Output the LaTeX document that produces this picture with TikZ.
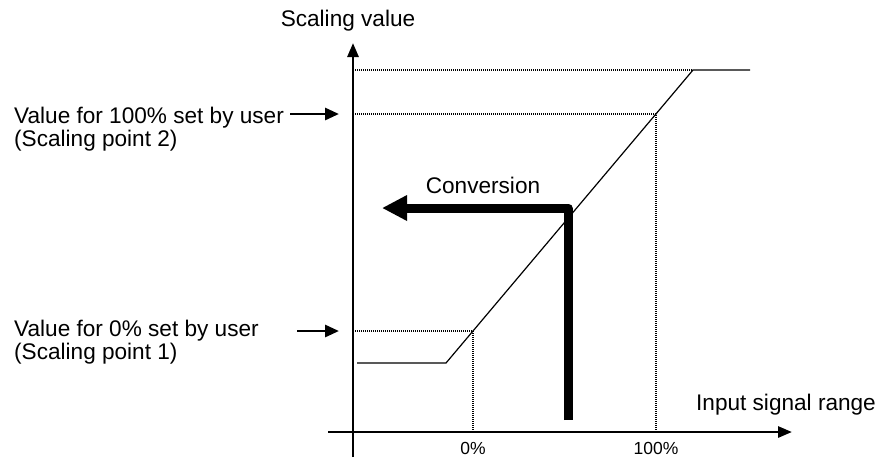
\documentclass[tikz,border=0pt]{standalone}
\usepackage{fontspec}
\setmainfont{Liberation Sans}
\usepackage{tikz}
\usetikzlibrary{arrows.meta}

\begin{document}
\begin{tikzpicture}[
    x=1pt, y=-1pt,
    label/.style={font=\fontsize{22.6}{23.5}\selectfont, inner sep=0pt},
    ticklabel/.style={font=\fontsize{17.5}{19}\selectfont, inner sep=0pt},
    axis/.style={line width=2.8pt, -{Triangle[length=14pt, width=11pt]}},
    pointer/.style={line width=2.8pt, -{Triangle[length=14pt, width=12pt]}},
    guide/.style={line width=1.7pt, dash pattern=on 1pt off 1pt},
    curve/.style={line width=1.2pt},
    conversion/.style={line width=9pt, line join=round, -{Triangle[length=25pt, width=24pt]}}
]
\useasboundingbox (0,0) rectangle (885,459);

% axes
\coordinate (ybot) at (353,457);
\coordinate (ytop) at (353,43);
\coordinate (xleft) at (328,432);
\coordinate (xright) at (792,432);
\draw[axis] (ybot) -- (ytop);
\draw[axis] (xleft) -- (xright);
\node[label] (yname) at (348,21) {Scaling value};
\node[label] (xname) at (786,405) {Input signal range};

% scaling curve
\coordinate (start) at (357,363);
\coordinate (knee) at (446,363);
\coordinate (lo) at (473,331);
\coordinate (hi) at (656,114);
\coordinate (top) at (693,70);
\coordinate (stop) at (750,70);
\draw[curve] (start) -- (knee) -- (top) -- (stop);

% guides
\draw[guide] (top -| ybot) -- (top);
\draw[guide] (hi -| ybot) -- (hi) -- (hi |- xleft);
\draw[guide] (lo -| ybot) -- (lo) -- (lo |- xleft);
\node[ticklabel] (zero) at (473,448) {0\%};
\node[ticklabel] (full) at (656,448) {100\%};

% user set points
\node[label, align=left, anchor=west] (set100) at (14,129) {Value for 100\% set by user\\(Scaling point 2)};
\node[label, align=left, anchor=west] (set0) at (14,342) {Value for 0\% set by user\\(Scaling point 1)};
\coordinate (from100) at (290,114);
\coordinate (from0) at (297,331);
\draw[pointer] (from100) -- (hi -| 339,0);
\draw[pointer] (from0) -- (lo -| 339,0);

% conversion arrow
\coordinate (cbot) at (568,420);
\coordinate (ccorner) at (568,208);
\coordinate (ctip) at (382,208);
\draw[conversion] (cbot) -- (ccorner) -- (ctip);
\node[label] (conv) at (483,185) {Conversion};

\end{tikzpicture}
\end{document}
